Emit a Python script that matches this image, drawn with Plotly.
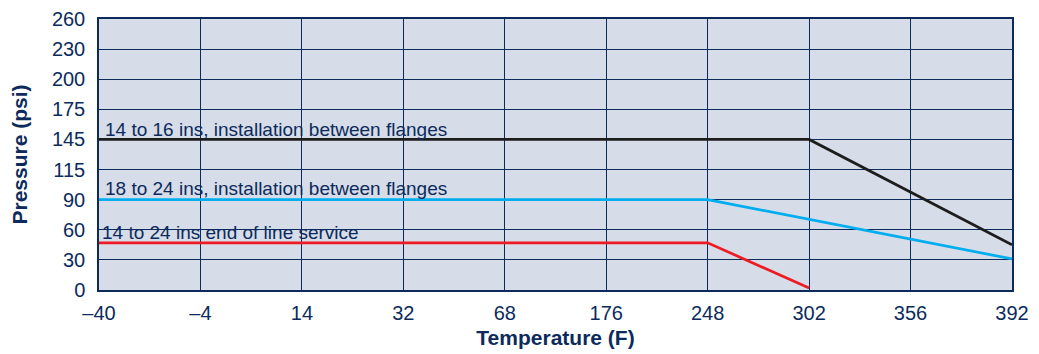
import numpy as np
import plotly.graph_objects as go

# Tick labels (evenly spaced on the chart)
temp_ticks = [-40, -4, 14, 32, 68, 176, 248, 302, 356, 392]
pressure_ticks = [0, 30, 60, 90, 115, 145, 175, 200, 230, 260]

# Series
s1_name = "14 to 16 ins, installation between flanges"
s1_temp = [-40, 302, 392]
s1_pres = [145, 145, 45]

s2_name = "18 to 24 ins, installation between flanges"
s2_temp = [-40, 248, 392]
s2_pres = [90, 90, 31]

s3_name = "14 to 24 ins end of line service"
s3_temp = [-40, 248, 302]
s3_pres = [47, 47, 2]

NAVY = "#0c2b5c"
BG = "#d6dce8"
FONT = "Liberation Sans, Arial, sans-serif"

idx = list(range(len(temp_ticks)))

def xi(vals):
    return np.interp(vals, temp_ticks, idx)

def yi(vals):
    return np.interp(vals, pressure_ticks, idx)

fig = go.Figure()
for t, p, c in [(s1_temp, s1_pres, "#1d1d1d"),
                (s2_temp, s2_pres, "#00aeef"),
                (s3_temp, s3_pres, "#ed1c24")]:
    fig.add_trace(go.Scatter(x=xi(t), y=yi(p), mode="lines",
                             line=dict(color=c, width=2.7), showlegend=False,
                             hoverinfo="skip"))

ann_font = dict(family=FONT, size=19, color=NAVY)
for name, t, p, dx, dy in [(s1_name, s1_temp, s1_pres, 5, -2),
                           (s2_name, s2_temp, s2_pres, 5, 0),
                           (s3_name, s3_temp, s3_pres, 2, -1)]:
    fig.add_annotation(x=xi([t[0]])[0], y=yi([p[0]])[0], text=name,
                       showarrow=False, xanchor="left", yanchor="bottom",
                       xshift=dx, yshift=dy, font=ann_font, borderpad=0)

axis_common = dict(showgrid=True, gridcolor=NAVY, gridwidth=1.3,
                   showline=True, linecolor=NAVY, linewidth=1.5, mirror=True,
                   zeroline=False, automargin=False,
                   tickfont=dict(family=FONT, size=20, color=NAVY),
                   ticks="outside", tickcolor="rgba(0,0,0,0)")

fig.update_xaxes(range=[0, 9], tickmode="array", tickvals=idx,
                 ticktext=[("\u2013" + str(-v)) if v < 0 else str(v) for v in temp_ticks],
                 ticklen=4,
                 title=dict(text="<b>Temperature (F)</b>", standoff=8,
                            font=dict(family=FONT, size=21, color=NAVY)),
                 **axis_common)
fig.update_yaxes(range=[0, 9], tickmode="array", tickvals=idx,
                 ticktext=[str(v) for v in pressure_ticks],
                 ticklen=8,
                 title=dict(text="<b>Pressure (psi)</b>", standoff=22,
                            font=dict(family=FONT, size=21, color=NAVY)),
                 **axis_common)

# page body has an 8px default margin, so the figure is sized to fit inside
fig.update_layout(width=1031, height=346,
                  margin=dict(l=91, r=27, t=11, b=64),
                  plot_bgcolor=BG, paper_bgcolor="white")

fig.write_html("out.html")
